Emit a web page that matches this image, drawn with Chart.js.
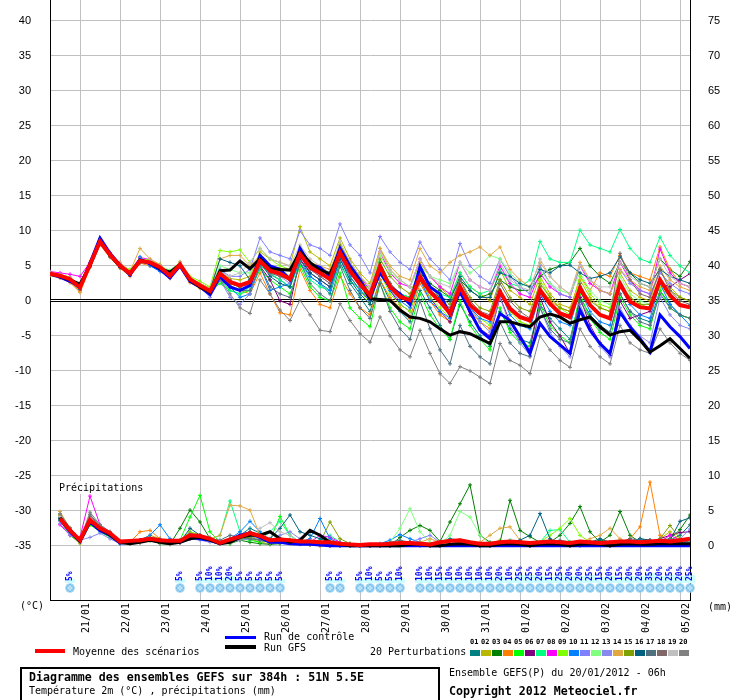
<!DOCTYPE html>
<html>
<head>
<meta charset="utf-8">
<script src="https://cdn.jsdelivr.net/npm/chart.js@4.4.1/dist/chart.umd.min.js"></script>
<style>
html,body{margin:0;padding:0;background:#fff;}
#wrap{position:relative;width:740px;height:700px;overflow:hidden;background:#fff;}
#c{position:absolute;left:0;top:0;}
.t{position:absolute;font-family:"DejaVu Sans Mono",monospace;font-size:10px;line-height:12px;white-space:pre;color:#000;}
.b{font-weight:bold;font-size:11.6px;}
.n{position:absolute;font-family:"DejaVu Sans Mono",monospace;font-weight:bold;font-size:7px;line-height:8px;color:#000;}
.sw{position:absolute;}
#box{position:absolute;left:20px;top:667px;width:420px;height:40px;border:2px solid #000;box-sizing:border-box;}
</style>
</head>
<body>
<div id="wrap">
<canvas id="c" width="740" height="700"></canvas>
<div class="t" style="left:20px;top:600px">(°C)</div>
<div class="t" style="left:708px;top:601px">(mm)</div>
<div class="sw" style="left:225px;top:635.5px;width:31px;height:3.5px;background:#0000ff"></div>
<div class="sw" style="left:225px;top:645px;width:31px;height:3.5px;background:#000"></div>
<div class="t" style="left:264px;top:631px">Run de contrôle</div>
<div class="t" style="left:264px;top:641.5px">Run GFS</div>
<div class="sw" style="left:35px;top:649px;width:30px;height:4px;background:#ff0000"></div>
<div class="t" style="left:73px;top:646px">Moyenne des scénarios</div>
<div class="t" style="left:370px;top:646px">20 Perturbations</div>
<div id="pl"></div>
<div id="box"></div>
<div class="t b" style="left:29px;top:671px">Diagramme des ensembles GEFS sur 384h : 51N 5.5E</div>
<div class="t" style="left:29px;top:685px">Température 2m (°C) , précipitations (mm)</div>
<div class="t" style="left:449px;top:666.5px">Ensemble GEFS(P) du 20/01/2012 - 06h</div>
<div class="t b" style="left:449px;top:685px">Copyright 2012 Meteociel.fr</div>
</div>
<script>
// ---------- data (6-hourly steps from 20/01/2012 06h, 0..384h) ----------
const STEP_H = 6;
const dateTickHours = [18,42,66,90,114,138,162,186,210,234,258,282,306,330,354,378];
const dateLabels = ['21/01','22/01','23/01','24/01','25/01','26/01','27/01','28/01','29/01','30/01','31/01','01/02','02/02','03/02','04/02','05/02'];
const tempTicks = [-35,-30,-25,-20,-15,-10,-5,0,5,10,15,20,25,30,35,40];
const mmTicks = [0,5,10,15,20,25,30,35,40,45,50,55,60,65,70,75];

const tempMean = [3.9,3.6,3.1,1.9,5.2,8.5,6.6,5.0,3.9,5.7,5.5,4.8,3.6,5.2,3.1,2.2,1.4,3.9,2.7,2.2,2.7,5.7,4.3,3.9,3.1,6.7,4.8,4.0,3.1,6.9,4.3,2.4,0.8,4.9,2.0,0.6,0.1,3.4,1.3,-0.1,-1.8,2.0,-0.6,-1.8,-2.5,1.3,-1.1,-2.3,-2.8,1.5,-0.4,-1.8,-2.3,1.8,-0.6,-2.0,-2.5,2.5,-0.1,-0.9,-1.1,3.0,0.8,-0.6,-0.9];
const tempGFS = [3.9,3.5,3.0,2.4,5.0,8.5,6.5,4.9,4.0,5.8,5.5,4.6,4.1,5.2,3.0,2.0,1.2,4.3,4.4,5.7,4.6,6.0,4.6,4.5,4.4,7.0,5.5,4.4,3.9,7.0,4.5,2.6,0.3,0.2,0.1,-1.3,-2.3,-2.5,-3.0,-4.0,-4.9,-4.4,-4.7,-5.4,-6.1,-3.0,-3.0,-3.4,-3.7,-2.3,-1.9,-2.3,-3.2,-2.7,-2.3,-3.7,-4.9,-4.4,-4.2,-5.6,-7.3,-6.4,-5.4,-6.8,-8.2];
const tempCtrl = [3.8,3.4,2.8,2.0,5.4,9.0,6.8,5.1,3.7,5.9,5.3,4.5,3.3,5.0,2.8,2.0,0.9,3.5,2.0,1.5,2.2,6.5,5.0,4.5,3.0,7.5,5.2,4.8,3.5,7.5,5.0,3.0,0.5,4.0,2.0,1.0,-0.5,4.9,2.0,1.0,-2.0,1.3,-1.5,-4.2,-5.4,-1.8,-2.8,-5.1,-7.5,-3.2,-5.1,-6.3,-7.5,-1.3,-4.2,-6.1,-7.5,-1.6,-3.7,-5.4,-7.3,-2.0,-3.7,-5.1,-6.8];
const tempPerts = [
 /*01*/[4.0,3.5,2.9,1.5,5.0,8.8,6.4,4.8,3.7,5.5,5.6,4.5,3.8,5.5,2.9,2.0,1.2,4.5,3.0,2.0,2.5,5.5,3.8,3.0,2.0,6.0,3.5,2.5,1.0,5.5,2.5,0.5,-1.5,3.0,0.0,-1.5,-3.0,1.5,-1.0,-3.5,-5.5,-0.5,-3.0,-5.0,-6.5,-1.5,-4.0,-5.5,-6.0,-0.5,-2.5,-4.0,-5.5,0.5,-2.0,-3.5,-4.5,1.0,-1.5,-2.5,-3.0,1.5,-0.5,-2.0,-2.5],
 /*02*/[3.7,3.8,3.4,2.2,5.3,8.3,6.8,5.3,4.2,6.0,5.8,5.0,3.5,5.0,3.3,2.4,1.6,4.0,3.2,3.0,3.5,7.0,6.0,5.5,5.0,10.6,7.0,6.0,5.0,9.0,6.0,4.0,2.5,7.5,4.5,3.0,2.0,5.5,3.5,2.0,0.5,4.0,2.0,1.0,0.0,4.5,1.5,0.5,-0.5,3.5,1.0,-0.5,-1.0,3.0,0.5,-1.0,-1.5,4.0,1.5,0.5,0.0,4.5,2.0,0.5,0.0],
 /*03*/[4.1,3.7,3.2,2.0,5.5,8.7,6.5,5.0,4.0,5.6,5.3,4.9,3.9,5.3,3.2,2.5,1.8,3.8,2.5,2.0,3.0,6.0,4.5,4.0,3.5,7.5,5.5,4.5,3.5,7.0,4.8,3.0,1.0,5.5,2.5,1.0,0.5,4.0,2.5,1.5,0.5,3.0,1.5,0.5,1.0,3.0,2.0,1.5,1.5,3.5,4.5,5.0,5.5,7.5,5.0,3.5,2.5,5.5,4.0,2.5,2.0,6.0,4.5,3.5,5.6],
 /*04*/[3.8,3.3,2.6,1.3,4.8,8.0,6.2,4.7,3.5,5.4,5.0,4.4,3.2,4.9,2.6,1.8,0.9,3.4,2.2,1.5,1.0,4.0,1.0,-1.7,-2.0,4.5,1.5,-0.5,-1.0,3.5,1.0,-1.0,-2.0,3.0,0.5,-1.0,-2.5,2.5,0.0,-2.0,-3.0,1.5,-1.5,-3.0,-4.0,1.0,-1.5,-2.5,-3.0,2.0,0.0,-1.0,-1.5,3.5,1.5,4.0,3.5,6.5,4.0,3.5,3.0,7.7,4.5,2.5,2.0],
 /*05*/[4.0,3.7,3.3,2.1,5.4,8.9,6.9,5.2,4.1,5.9,5.7,5.0,3.8,5.4,3.0,2.1,1.3,2.5,1.5,1.0,1.5,4.5,3.0,2.0,1.0,5.0,2.0,0.5,0.0,4.0,-1.0,-2.5,-3.7,2.5,-1.0,-3.0,-4.0,1.0,-2.0,-4.0,-5.5,0.0,-3.5,-5.5,-7.0,-1.0,-4.5,-6.0,-6.5,-0.5,-3.5,-5.0,-6.0,1.0,-2.5,-4.5,-5.5,0.5,-2.0,-3.5,-4.0,1.5,-1.0,-2.0,-2.5],
 /*06*/[3.9,3.5,3.0,1.8,5.1,8.4,6.5,4.9,3.8,5.6,5.4,4.7,3.5,5.1,3.0,2.1,1.3,3.8,2.8,2.3,2.5,5.0,3.0,0.0,-0.5,6.0,4.0,3.0,2.0,6.5,3.5,1.5,0.0,4.5,1.5,-0.5,-1.5,3.0,0.5,-1.5,-3.0,1.5,-2.0,-4.0,-5.0,0.5,-3.0,-5.5,-7.0,0.5,-3.0,-5.0,-7.5,0.5,-3.5,-6.0,-7.8,0.0,-2.5,-2.0,-1.5,2.5,2.0,3.0,3.9],
 /*07*/[3.8,3.6,3.0,2.0,5.3,8.8,6.7,5.1,4.0,5.8,5.5,4.8,3.6,5.2,3.1,2.2,1.0,3.0,1.5,1.0,2.0,5.0,4.0,3.0,2.0,5.5,3.0,2.0,1.5,5.0,3.0,1.5,0.5,4.5,2.0,1.0,0.5,3.5,2.0,1.0,0.5,4.0,2.0,1.0,1.5,4.5,2.5,2.0,3.0,8.5,6.0,5.5,5.5,10.1,8.0,7.5,7.0,10.2,7.5,6.0,5.5,9.1,6.5,5.0,4.0],
 /*08*/[4.2,4.0,3.8,3.5,5.5,8.6,6.9,5.4,4.3,6.2,5.9,5.1,3.8,5.3,3.2,2.3,1.5,3.5,2.0,1.5,2.5,6.0,4.5,4.0,3.5,7.0,5.0,4.5,3.5,8.0,5.5,3.5,1.5,7.0,4.0,2.5,2.0,6.0,3.5,2.0,1.0,5.5,3.0,2.0,1.5,5.0,2.5,1.0,0.5,4.0,2.0,1.0,0.5,5.0,2.5,1.5,1.0,5.5,3.0,1.5,1.0,7.4,4.0,2.5,2.0],
 /*09*/[3.9,3.5,3.0,1.7,5.0,8.4,6.6,5.1,4.5,6.0,5.8,5.2,4.0,5.4,3.5,2.8,2.0,7.2,7.0,7.3,5.5,7.5,6.0,5.0,4.5,7.5,5.5,4.0,3.0,6.0,3.5,1.5,-0.5,4.0,1.0,-0.5,-1.5,3.0,0.5,-1.0,-2.5,2.0,-1.0,-2.5,-3.5,1.5,-1.5,-3.0,-3.5,3.0,0.5,-1.0,-2.0,3.5,1.0,-0.5,-1.0,2.5,0.5,-0.5,-1.0,2.0,0.5,-0.5,-1.0],
 /*10*/[3.7,3.4,2.8,1.6,4.9,8.2,6.3,4.8,3.7,6.3,5.0,4.2,3.4,5.0,2.9,2.0,1.2,3.2,2.0,0.5,1.0,5.0,1.5,2.0,2.5,5.5,3.5,2.5,1.5,6.0,3.5,1.5,0.0,4.0,1.5,0.0,-1.0,3.0,0.0,-1.5,-2.5,1.5,-1.0,-2.5,-3.0,1.5,-2.0,-3.5,-4.0,1.0,-1.5,-3.0,-3.5,1.5,-1.5,-3.0,-3.5,2.0,-0.5,-2.0,-2.5,2.5,-0.5,-2.0,-3.5],
 /*11*/[4.0,3.7,3.2,2.0,5.3,8.6,6.7,5.1,4.0,5.8,5.6,4.9,3.7,5.3,3.2,2.3,1.5,4.5,3.5,3.5,4.5,9.0,7.0,6.5,6.0,10.0,8.0,7.5,6.5,11.0,8.0,6.5,4.0,9.2,7.0,5.5,4.5,8.4,6.0,4.5,3.0,8.2,5.0,3.5,2.5,6.0,3.5,2.0,1.0,5.0,2.5,1.0,0.5,5.0,3.0,1.5,1.0,4.5,2.5,1.5,1.0,4.0,2.5,1.5,1.0],
 /*12*/[3.8,3.5,3.1,2.0,5.1,8.4,6.5,5.0,4.2,5.9,5.5,4.9,4.4,5.5,3.3,2.5,1.8,5.0,4.5,4.0,4.0,6.5,5.0,4.5,3.5,7.0,5.0,4.0,3.0,7.5,5.0,3.0,1.5,6.5,4.0,3.0,2.0,5.0,3.5,3.0,2.5,5.5,4.0,5.0,6.5,6.0,4.0,2.5,2.0,4.5,2.5,1.5,1.0,4.0,1.5,0.0,-0.5,3.5,1.0,0.0,-0.5,3.0,1.0,-0.5,-1.0],
 /*13*/[3.9,3.6,3.1,1.9,5.2,8.5,6.6,5.0,3.8,5.6,5.4,4.7,3.5,5.1,3.0,2.0,0.5,3.0,0.5,-0.5,1.0,5.5,4.0,3.5,2.5,6.5,4.5,3.5,2.5,6.0,4.0,2.0,0.5,5.0,2.5,1.0,0.0,4.0,1.5,0.0,-1.5,2.5,-1.0,-3.0,-4.5,0.5,-3.5,-6.0,-7.8,-1.0,-4.5,-6.5,-8.0,-0.5,-4.0,-6.5,-8.0,-1.0,-3.5,-5.0,-6.0,0.5,-2.0,-3.5,-4.0],
 /*14*/[3.6,3.3,2.7,1.2,4.8,8.2,6.4,5.5,4.2,7.5,6.0,5.2,3.9,5.6,3.3,2.5,1.8,6.0,6.5,6.5,5.0,6.5,5.0,4.5,3.5,7.5,5.5,5.0,4.5,8.0,5.5,3.5,2.0,7.5,5.0,3.5,3.0,7.5,5.0,4.0,5.5,6.5,7.0,7.7,6.5,7.7,4.5,3.0,2.0,5.5,3.5,2.0,1.0,5.5,3.0,1.5,1.0,4.5,3.0,2.0,1.5,5.0,3.0,2.0,1.5],
 /*15*/[4.0,3.6,3.0,1.8,5.2,8.6,6.6,4.9,3.9,5.7,5.4,4.8,3.7,5.2,3.1,2.2,1.4,3.8,2.5,2.0,2.5,6.0,4.5,4.0,3.0,7.0,5.0,4.0,3.0,8.0,5.5,3.5,1.0,6.0,3.5,2.0,1.0,4.5,2.0,0.5,-0.5,3.0,0.5,-1.0,-1.5,3.0,0.5,-1.0,-1.5,2.5,0.5,-1.0,-1.5,2.0,0.0,-1.0,-1.5,2.0,0.5,-0.5,-0.5,3.0,1.5,0.5,0.0],
 /*16*/[3.9,3.4,2.9,1.7,5.0,8.3,6.4,4.8,3.7,5.5,5.3,4.6,3.4,5.0,2.9,2.0,1.5,6.0,5.5,5.0,3.0,5.5,3.5,2.5,2.0,6.5,4.0,3.0,2.0,6.0,3.0,1.0,-0.5,4.5,2.0,0.5,0.0,3.5,1.5,0.5,0.0,3.5,1.5,0.5,0.5,4.0,3.5,2.5,2.0,4.5,4.0,5.0,5.1,4.0,3.2,3.5,4.0,6.3,4.0,3.0,2.5,4.5,3.5,3.0,2.5],
 /*17*/[3.8,3.5,3.0,1.8,5.1,8.4,6.5,4.9,3.8,5.6,5.4,4.7,3.5,5.1,3.0,2.1,1.0,3.0,2.0,1.5,1.5,5.0,2.0,1.0,0.5,5.5,2.5,1.0,0.0,5.0,1.5,-1.0,-2.5,2.5,-1.5,-4.0,-5.5,0.0,-4.0,-7.0,-9.0,-3.5,-6.5,-8.0,-9.0,-3.0,-6.0,-7.5,-8.0,-1.0,-4.0,-5.5,-6.0,0.0,-2.5,-4.0,-4.5,1.0,-1.5,-3.0,-3.5,1.0,-1.0,-2.0,-2.5],
 /*18*/[3.9,3.7,3.2,2.1,5.3,8.4,6.5,5.1,4.0,5.6,5.6,4.9,3.7,5.3,3.0,2.3,1.5,3.5,2.5,2.0,2.5,5.5,4.0,3.5,3.0,6.5,4.5,3.5,2.5,6.5,4.0,2.0,0.5,5.0,2.5,1.0,0.0,4.0,1.5,0.0,-1.0,3.0,0.0,-1.5,-2.0,2.5,0.0,-1.5,-2.5,2.0,-0.5,-2.0,-2.5,2.5,-0.5,-2.0,-2.5,6.8,3.0,1.0,0.5,4.5,1.5,0.0,-0.5],
 /*19*/[4.1,3.8,3.3,2.2,5.4,8.7,6.8,5.2,4.1,5.9,5.7,5.0,3.8,5.4,3.3,2.4,1.7,4.0,3.5,4.0,5.5,7.5,6.0,5.5,5.0,8.0,6.0,5.0,4.0,8.5,5.5,3.5,2.0,7.0,4.5,3.0,2.0,6.0,3.5,2.5,2.0,5.5,3.0,2.0,1.5,5.5,3.0,2.0,1.5,6.0,3.5,2.0,1.0,5.0,3.0,2.0,2.0,5.5,3.5,2.5,2.0,6.0,3.5,2.5,2.0],
 /*20*/[3.8,3.5,2.9,1.7,5.0,8.3,6.4,4.9,3.8,5.6,5.3,4.6,3.4,5.0,2.9,1.9,1.0,3.0,1.0,-1.0,-1.8,3.0,1.0,-1.3,-2.8,0.1,-2.0,-4.2,-4.4,-0.4,-2.8,-4.7,-5.9,-2.3,-5.0,-7.0,-8.0,-4.2,-7.5,-10.4,-11.8,-9.4,-10.0,-10.9,-11.8,-6.1,-8.5,-9.2,-10.4,-5.0,-7.0,-8.5,-9.5,-4.0,-6.5,-8.0,-9.0,-3.5,-6.0,-7.0,-7.5,-4.0,-6.0,-7.5,-8.5]
];

const precipMean = [null,3.9,2.2,0.8,3.7,2.5,1.8,0.6,0.7,0.8,1.0,0.8,0.7,0.7,1.5,1.4,1.0,0.4,0.9,1.3,1.8,1.4,0.8,0.9,0.8,0.6,0.6,0.5,0.5,0.3,0.2,0.1,0.2,0.2,0.3,0.4,0.4,0.3,0.2,0.5,0.7,0.8,0.5,0.3,0.3,0.5,0.6,0.5,0.4,0.5,0.6,0.5,0.4,0.6,0.5,0.4,0.5,0.6,0.6,0.5,0.6,0.7,0.6,0.8,1.0];
const precipGFS = [null,4.0,2.2,0.7,3.6,2.4,1.6,0.5,0.3,0.5,0.8,0.5,0.3,0.5,1.0,1.2,0.8,0.3,0.5,1.2,1.5,1.5,2.0,1.0,0.5,0.8,2.2,1.5,0.5,0.2,0,0,0,0,0,0,0.2,0.2,0,0,0.2,0.3,0.2,0,0,0.2,0.3,0.2,0,0.2,0.3,0.2,0,0.2,0.3,0.2,0,0.2,0.3,0.2,0.2,0.3,0.3,0.3,0.3];
const precipCtrl = [null,3.8,2.0,0.6,3.4,2.2,1.5,0.4,0.5,0.8,1.0,0.8,0.5,0.5,1.2,1.0,0.8,0.3,0.8,1.5,1.8,1.2,0.5,0.5,0.3,0.2,0.2,0.1,0,0,0,0,0,0,0,0,0,0,0,0,0,0,0,0,0,0,0,0,0,0,0,0,0,0,0,0,0,0,0,0,0,0,0,0,0];
const precipPerts = [
 /*01*/[null,4.2,2.0,0.5,3.5,2.8,1.8,0.3,0.5,0.8,1.0,0.5,0.3,0.6,1.2,1.5,0.8,0.3,0.5,1.5,2.5,1.8,0.5,0.8,0.5,0.3,0.2,0.1,0,0,0,0,0,0,0.2,0.5,0.3,0,0,0.5,1.0,0.8,0.3,0,0,0.3,0.5,0.2,0,0.3,0.8,0.5,0.2,0,0.5,0.8,0.3,0.2,0.5,1.0,0.8,0.5,0.8,1.5,3.0],
 /*02*/[null,4.5,1.5,0.3,3.0,2.5,1.5,0.5,0.3,0.8,1.5,1.0,0.5,0.8,2.0,1.5,0.8,0.5,1.0,0.8,1.0,0.5,0.3,0.5,0.8,0.5,0.3,0.2,0,0,0,0,0,0,0,0.3,0.5,0.5,0.3,0,0.2,0.5,0.3,0,0.3,0.8,0.5,0.3,0,0.2,0.5,0.3,0,0.3,0.5,0.3,0.2,0.5,0.3,0.2,0.5,1.0,2.0,0.8,0.5],
 /*03*/[null,3.8,1.8,0.5,3.2,2.2,1.5,0.5,0.3,0.5,0.8,0.3,0.2,2.5,5.1,3.4,1.0,0.5,0.3,0.8,0.5,0.3,0.2,0.3,0.5,0.3,0.2,0.1,0,0,0,0,0,0,0,1.2,2.2,2.9,2.2,0.6,3.4,6.0,8.7,1.5,0.5,0.5,6.5,2.2,1.3,0.5,0.5,1.5,3.2,5.6,2.0,0.5,1.5,4.9,1.5,0.5,0.3,0.5,1.0,2.3,4.4],
 /*04*/[null,4.0,2.5,0.8,3.5,2.3,1.8,0.4,0.5,2.0,2.2,1.0,0.5,0.5,1.0,1.2,0.8,0.3,0.5,1.0,1.5,1.0,0.5,0.8,0.5,0.3,0.2,0,0,0,0,0,0,0,0,0.2,0.3,0.2,0,0,0.3,0.5,0.3,0.2,0,0.3,0.5,0.3,0,0.2,0.3,0.2,0,0.3,0.5,0.3,0.2,0.5,1.0,2.7,9.1,1.5,0.5,0.3,0.3],
 /*05*/[null,3.6,1.5,0.5,3.0,2.0,1.2,0.3,0.3,0.5,0.8,0.5,0.3,0.8,4.1,7.2,2.0,0.5,0.3,1.0,0.8,0.5,0.8,4.2,1.5,0.5,0.3,0.2,0.1,0.5,0.3,0,0,0,0,0,0.2,0.3,0,0,0.2,0.3,0.2,0,0,0.2,0.3,0.2,0,0.2,0.5,0.3,0,0.2,0.3,0.2,0,0.2,0.3,0.2,0.2,0.3,0.5,0.3,0.5],
 /*06*/[null,3.9,2.2,0.8,3.8,2.6,1.7,0.5,0.5,0.8,1.0,0.8,0.5,0.5,1.2,1.3,0.8,0.5,1.0,1.5,2.0,1.5,0.8,0.5,0.5,0.3,0.2,0.2,0,0,0,0,0,0,0.2,0.3,0.5,0.3,0,0,0.3,0.5,0.3,0,0,0.3,0.5,0.3,0,0.3,0.5,0.3,0.2,0.3,0.5,0.3,0.2,0.5,0.8,0.5,0.5,1.0,1.5,1.9,2.0],
 /*07*/[null,4.0,2.0,0.7,3.6,2.4,1.6,0.5,0.3,0.5,0.8,0.5,0.5,0.8,1.5,1.3,0.8,1.5,6.4,2.0,1.0,0.8,2.0,3.5,1.5,0.5,0.3,0.8,1.5,0.5,0.2,0,0,0,0,0.2,0.3,0.2,0,0,0.2,0.3,0.2,0,0,0.3,0.8,0.5,0.3,0.5,2.2,2.3,0.5,0.3,0.5,0.3,0.2,0.8,0.5,0.3,0.2,0.3,0.5,0.3,0.3],
 /*08*/[null,3.0,1.5,1.2,7.1,3.0,2.0,0.5,0.3,0.5,0.8,0.5,0.3,0.5,1.0,1.2,0.8,0.3,0.5,1.0,1.2,0.8,0.5,0.5,0.8,0.5,0.5,1.5,1.2,0.5,0.2,0,0,0,0,0.2,0.3,0.2,0,0,0.3,0.5,0.3,0,0,0.2,0.5,0.3,0,0.2,0.3,0.2,0,0.2,0.3,0.2,0,0.3,0.5,0.3,0.2,0.5,1.5,0.8,0.5],
 /*09*/[null,4.3,2.3,0.9,3.9,2.7,1.9,0.6,0.5,0.8,1.0,0.8,0.5,0.5,2.0,1.5,1.0,0.5,1.0,1.5,1.5,1.0,0.5,0.8,0.5,0.3,0.2,0.1,0,0,0,0,0,0,0,0.2,0.3,0.2,0,0,0.2,0.5,0.3,0,0,0.2,0.5,0.3,0.2,0.5,1.5,2.5,3.9,1.5,0.5,0.3,0.5,0.3,0.2,0.3,0.5,0.3,0.2,0.3,0.5],
 /*10*/[null,3.7,2.1,0.6,3.4,2.4,1.6,0.4,0.5,0.8,1.5,3.0,1.0,0.5,1.0,1.5,1.0,0.5,1.0,2.0,3.5,2.0,0.5,0.5,0.8,0.5,1.0,3.9,1.0,0.3,0.2,0,0,0.3,0.8,1.6,1.0,0.5,0.3,0,0.2,0.3,0.2,0,0,0.2,0.3,0.2,0,0.2,0.3,0.2,0,0.2,0.3,0.2,0,0.2,0.3,0.2,0.2,0.3,0.5,0.3,0.5],
 /*11*/[null,3.5,1.8,0.6,3.3,2.0,1.4,0.3,0.3,0.5,0.8,0.5,0.3,0.5,1.0,1.0,0.8,0.3,0.5,1.0,1.3,1.0,0.5,0.5,0.8,0.5,0.3,0.2,0,0,0,0,0,0,0,0.2,0.5,1.0,1.5,0.5,0.2,0.3,0.2,0,0,0.2,0.3,0.2,0,0.2,0.3,0.2,0,0.2,0.3,0.2,0,0.2,0.3,0.2,0.5,1.0,0.8,1.0,2.4],
 /*12*/[null,3.9,2.0,0.6,3.5,2.3,1.6,0.4,0.3,0.5,0.8,0.5,0.3,0.5,1.2,1.0,0.8,0.3,0.5,1.0,1.2,0.8,0.5,0.5,0.8,0.5,0.3,0.2,0,0,0,0,0,0,0.5,2.5,5.3,2.0,0.5,0.3,1.5,4.9,4.1,1.5,0.3,0.2,0.3,0.2,0,0.2,0.3,0.2,0,0.2,0.3,0.2,0,0.2,0.3,0.2,0.2,0.3,0.5,0.3,0.5],
 /*13*/[null,3.2,1.5,0.8,1.2,1.8,1.0,0.3,0.3,0.5,0.8,0.5,0.3,0.5,1.0,0.8,0.5,0.3,0.5,0.8,1.0,0.8,0.5,1.5,2.0,1.0,0.3,0.2,0,0,0,0,0,0,0,0.2,0.3,0.2,0,0,0.2,0.3,0.2,0,0,0.2,0.3,0.2,0,0.2,0.3,0.2,0,0.2,0.3,0.2,0,0.2,0.3,0.2,0.5,1.0,0.5,0.3,0.5],
 /*14*/[null,4.9,2.5,0.5,3.6,2.6,1.8,0.5,0.5,0.8,1.0,0.8,0.5,0.5,1.2,1.5,1.0,1.5,5.8,5.7,5.1,1.5,0.8,0.5,0.3,0.2,0.1,0,0,0,0,0,0,0,0,0.2,0.3,0.5,1.0,0.5,0.2,0.3,0.2,0.5,1.5,2.5,2.7,0.8,0.3,0.5,0.8,0.3,0,0.5,1.0,1.5,2.5,1.0,0.3,0.2,0.3,0.5,0.8,0.5,0.5],
 /*15*/[null,4.1,2.3,0.8,3.7,2.5,1.7,0.4,0.3,0.5,0.8,0.5,0.3,0.5,1.2,1.5,0.8,0.3,0.5,1.0,1.2,0.8,0.5,0.5,0.8,0.5,0.3,0.5,3.4,1.0,0.3,0,0,0,0,0.2,0.3,0.2,0,0,0.2,0.3,0.2,0,0,0.2,0.3,0.2,0,0.2,0.3,0.2,0,0.2,0.3,0.2,0,0.2,0.3,0.2,0.5,1.0,2.9,1.0,0.5],
 /*16*/[null,3.9,2.1,0.7,3.5,2.3,1.5,0.4,0.5,0.8,1.0,0.8,0.5,0.5,2.5,1.5,1.0,0.5,1.0,1.5,2.0,1.5,1.0,2.5,4.4,2.0,1.5,1.0,0.5,0.3,0.2,0,0,0,0,0.2,0.3,0.2,0,0,0.2,0.3,0.2,0,0,0.3,0.5,0.8,1.5,4.6,1.0,0.3,0.3,0.2,0.5,1.0,0.5,0.3,0.5,1.0,0.8,0.5,0.8,3.5,4.0],
 /*17*/[null,4.0,2.2,0.8,4.5,2.8,1.8,0.5,0.5,0.8,1.0,0.8,0.5,0.5,1.5,1.2,1.0,0.8,1.5,1.2,1.0,0.8,0.5,0.5,0.5,0.3,0.5,0.3,0.2,0,0,0,0,0.2,0.5,0.8,0.5,0.2,0,0,0.2,0.5,0.3,0,0.3,0.5,0.3,0.2,0,0.3,0.5,0.8,0.5,0.3,0.5,0.3,0.2,0.5,1.0,0.8,0.5,0.8,1.0,0.8,0.5],
 /*18*/[null,4.4,2.4,0.7,4.2,2.9,1.9,0.5,0.5,0.8,1.0,0.8,0.5,0.5,1.5,1.5,1.0,0.5,1.0,1.5,1.8,1.2,0.8,0.5,0.5,0.3,0.2,0.1,0,0,0,0,0,0,0,0.3,0.5,0.3,0,0,0.3,0.5,0.3,0,0,0.3,0.5,0.3,0,0.3,0.5,0.3,0,0.3,0.5,0.3,0,0.3,0.5,0.3,0.3,0.5,0.8,0.5,0.5],
 /*19*/[null,4.2,2.1,0.9,3.8,2.6,1.7,0.5,0.3,0.5,0.8,0.5,0.3,0.5,1.0,1.2,0.8,0.5,1.0,1.5,1.5,2.5,3.3,2.0,1.5,0.5,0.3,0.2,0,0,0,0,0,0,0,0.2,0.3,0.2,0,0,0.2,0.3,0.2,0,0,0.2,0.3,0.2,0,0.2,0.3,0.2,0,0.2,0.3,0.2,0,0.2,0.3,0.2,0.2,0.3,0.5,0.3,0.5],
 /*20*/[null,4.6,2.6,0.9,4.8,3.0,2.0,0.6,0.5,0.8,1.2,1.0,0.5,0.8,1.8,1.5,1.2,0.5,1.0,1.5,2.0,1.5,0.8,0.5,0.5,0.3,0.3,0.2,0,0,0,0,0,0,0,0.2,0.2,0.2,0,0,0.2,0.2,0.2,0,0,0.2,0.2,0.2,0,0.2,0.2,0.2,0,0.2,0.2,0.2,0,0.2,0.2,0.2,0.2,0.2,0.3,0.3,0.3]
];
const pertColors = ['#008080','#b8b800','#008000','#ff8000','#00ff00','#800080','#00ff80','#ff00ff','#80ff00','#0080ff','#8080ff','#80ff80','#8888ee','#e0a840','#80a000','#006080','#507080','#806868','#c0c0c0','#808080'];

// snow probability (6h step index, percentage)
const snowIdx = [2,13,15,16,17,18,19,20,21,22,23,28,29,31,32,33,34,35,37,38,39,40,41,42,43,44,45,46,47,48,49,50,51,52,53,54,55,56,57,58,59,60,61,62,63,64];
const snowPct = [5,5,5,10,10,20,5,5,5,5,5,5,5,5,10,5,5,10,10,10,15,10,10,10,10,10,20,10,25,25,20,15,25,20,20,25,15,20,15,20,20,35,20,25,20,25];

// ---------- legend boxes (DOM) ----------
const pl = document.getElementById('pl');
pertColors.forEach((c,k)=>{
  const n = document.createElement('div'); n.className='n';
  n.style.left = (470 + 11*k) + 'px'; n.style.top = '638px';
  n.textContent = String(k+1).padStart(2,'0'); pl.appendChild(n);
  const s = document.createElement('div'); s.className='sw';
  s.style.cssText = 'left:'+(470+11*k)+'px;top:649.5px;width:9.5px;height:6.5px;background:'+c;
  pl.appendChild(s);
});

// ---------- chart ----------
function pts(arr){ return arr.map((v,i)=>({x:i*STEP_H, y:v})); }
const datasets = [];
function addPair(tArr, pArr, color, width, order, markers){
  const common = {borderColor:color, backgroundColor:color, borderWidth:width, order:order,
    pointRadius: markers?2:0, pointStyle:'cross', pointBorderWidth:1, pointBorderColor:color, tension:0, fill:false};
  datasets.push(Object.assign({data:pts(tArr), yAxisID:'y'}, common));
  datasets.push(Object.assign({data:pts(pArr), yAxisID:'y2'}, common));
}
addPair(tempMean, precipMean, '#ff0000', 4, 0, false);
addPair(tempGFS, precipGFS, '#000000', 3, 1, false);
addPair(tempCtrl, precipCtrl, '#0000ff', 3, 2, false);
tempPerts.forEach((t,k)=> addPair(t, precipPerts[k], pertColors[k], 1, 3 + (19-k)*0.01, true));

const decor = {
  id:'decor',
  beforeDatasetsDraw(chart){
    const ctx = chart.ctx, a = chart.chartArea, ys = chart.scales.y;
    const y0 = Math.floor(ys.getPixelForValue(0));
    ctx.save();
    ctx.fillStyle = '#fff'; ctx.fillRect(a.left+1, y0, a.right-a.left-2, 1);
    ctx.fillStyle = '#000';
    ctx.fillRect(a.left, y0-1, a.right-a.left, 1);
    ctx.fillRect(a.left, y0+1, a.right-a.left, 1);
    // "Précipitations" label
    ctx.font = '10px "DejaVu Sans Mono"';
    ctx.textBaseline = 'middle'; ctx.textAlign = 'left';
    const w = ctx.measureText('Précipitations').width;
    ctx.fillStyle = '#fff'; ctx.fillRect(56, 481, w+6, 13);
    ctx.fillStyle = '#000'; ctx.fillText('Précipitations', 59, 488);
    ctx.restore();
  },
  afterDatasetsDraw(chart){
    const ctx = chart.ctx, xs = chart.scales.x;
    ctx.save();
    ctx.fillStyle = '#ccffff';
    snowIdx.forEach((idx,k)=>{
      const x = xs.getPixelForValue(idx*STEP_H);
      const h = 3 + snowPct[k]/5;
      ctx.fillRect(x-5, 583-h, 10, h);
    });
    ctx.fillStyle = '#0000ff';
    ctx.font = 'bold 8px "DejaVu Sans Mono"';
    ctx.textBaseline = 'middle'; ctx.textAlign = 'left';
    snowIdx.forEach((idx,k)=>{
      const x = xs.getPixelForValue(idx*STEP_H);
      ctx.save(); ctx.translate(x, 581); ctx.rotate(-Math.PI/2);
      ctx.fillText(snowPct[k]+'%', 0, 0); ctx.restore();
    });
    snowIdx.forEach((idx)=>{
      const x = xs.getPixelForValue(idx*STEP_H), y = 588;
      ctx.fillStyle = '#9ed4f2';
      ctx.beginPath(); ctx.arc(x, y, 4.8, 0, Math.PI*2); ctx.fill();
      ctx.fillStyle = '#4aa6de';
      [[-2,-2],[2,-2],[-2,2],[2,2],[0,-3.5],[0,3.5],[-3.5,0],[3.5,0]].forEach(p=>ctx.fillRect(x+p[0]-0.5, y+p[1]-0.5, 1, 1));
      ctx.fillStyle = '#e8f6ff';
      [[0,0],[-1.5,0],[1.5,0],[0,-1.5],[0,1.5]].forEach(p=>ctx.fillRect(x+p[0]-0.5, y+p[1]-0.5, 1, 1));
    });
    ctx.restore();
  }
};

const axisFont = {family:'"Liberation Sans", Arial, sans-serif', size:11};
new Chart(document.getElementById('c'), {
  type:'line',
  data:{datasets},
  options:{
    responsive:false, animation:false, devicePixelRatio:1,
    layout:{padding:0, autoPadding:false},
    plugins:{legend:{display:false}, tooltip:{enabled:false}},
    scales:{
      x:{type:'linear', position:'bottom', min:0, max:384,
        afterBuildTicks:s=>{ s.ticks = dateTickHours.map(v=>({value:v})); },
        afterFit:s=>{ s.height = 100; s.paddingLeft = 0; s.paddingRight = 0; },
        ticks:{autoSkip:false, minRotation:90, maxRotation:90, padding:3, labelOffset:6, color:'#000',
          font:{family:'"DejaVu Sans Mono", monospace', size:10},
          callback:(v,i)=>dateLabels[i]},
        grid:{color:'#c0c0c0', lineWidth:1, drawTicks:false},
        border:{color:'#000', width:1}},
      y:{type:'linear', position:'left', min:-42.75, max:43,
        afterBuildTicks:s=>{ s.ticks = tempTicks.map(v=>({value:v})); },
        afterFit:s=>{ s.width = 50; s.paddingTop = 0; s.paddingBottom = 0; },
        ticks:{padding:19, color:'#000', font:axisFont, callback:v=>String(v)},
        grid:{color:'#c0c0c0', lineWidth:1, drawTicks:false},
        border:{color:'#000', width:1}},
      y2:{type:'linear', position:'right', min:-7.75, max:78,
        afterBuildTicks:s=>{ s.ticks = mmTicks.map(v=>({value:v})); },
        afterFit:s=>{ s.width = 50; s.paddingTop = 0; s.paddingBottom = 0; },
        ticks:{padding:18, color:'#000', font:axisFont, callback:v=>String(v)},
        grid:{display:false, drawTicks:false},
        border:{color:'#000', width:1}}
    }
  },
  plugins:[decor]
});
</script>
</body>
</html>
